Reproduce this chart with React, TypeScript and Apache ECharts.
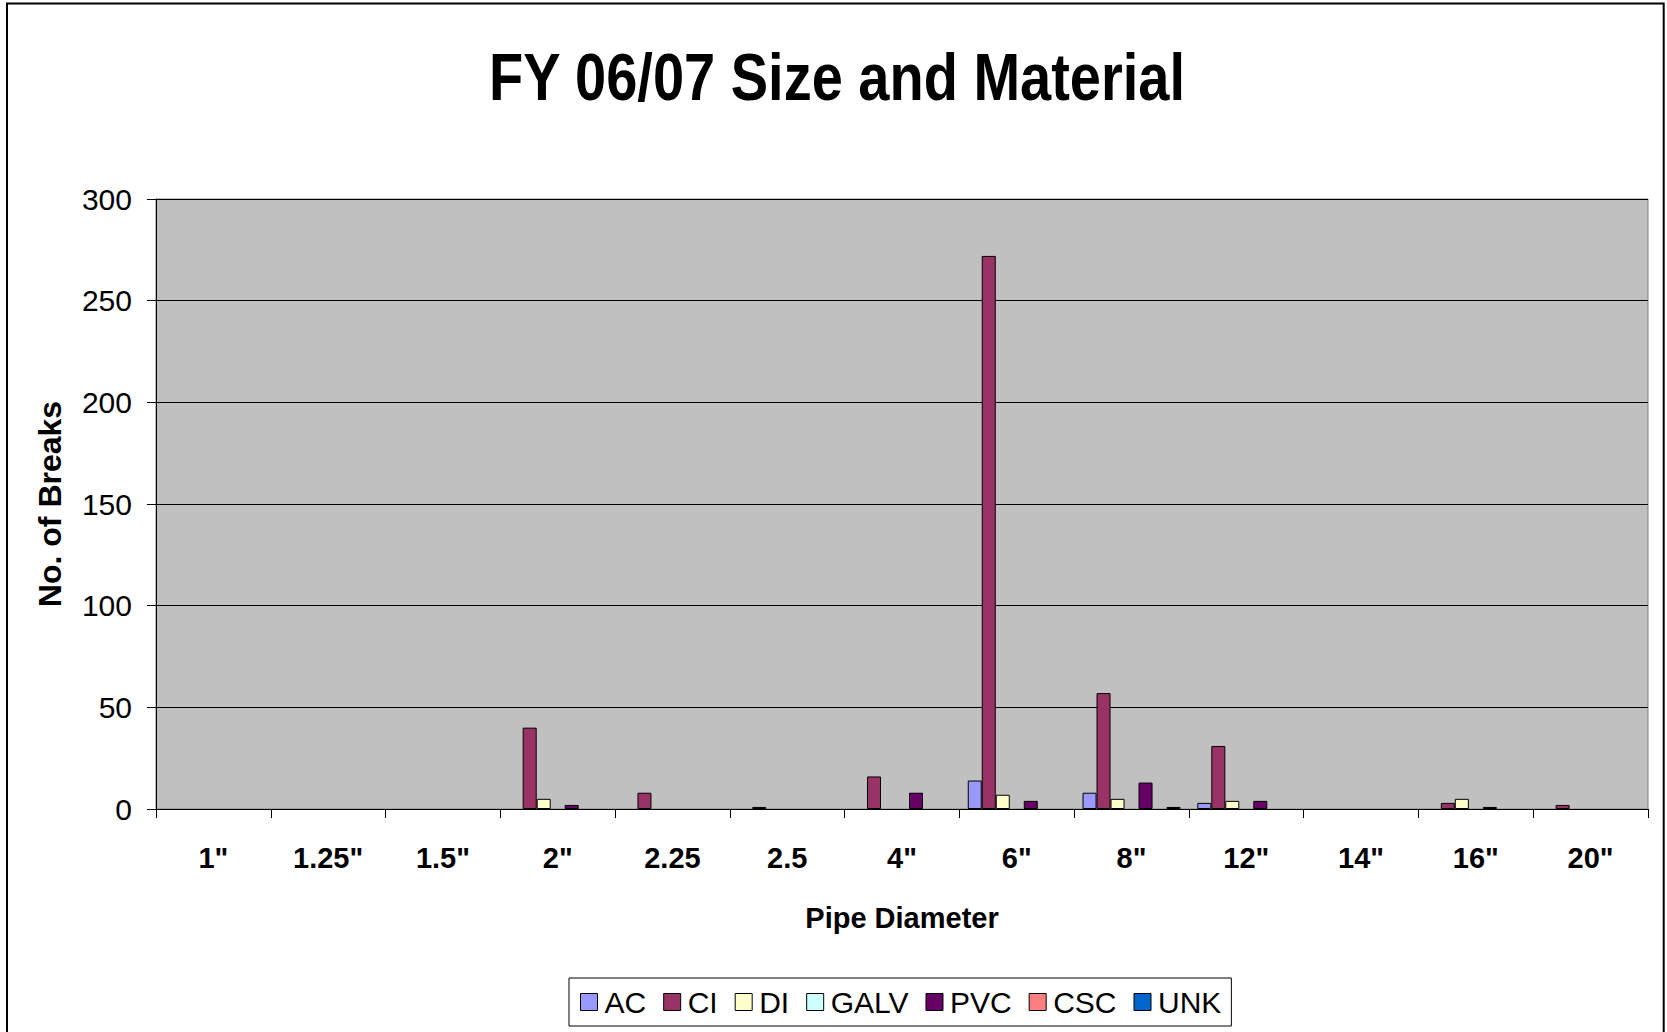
import React, { useEffect, useRef } from "react";
import * as echarts from "echarts";

const categories = ['1"', '1.25"', '1.5"', '2"', '2.25', '2.5', '4"', '6"', '8"', '12"', '14"', '16"', '20"'];
const seriesNames = ["AC", "CI", "DI", "GALV", "PVC", "CSC", "UNK"];
const seriesColors = ["#9999FF", "#993366", "#FFFFCC", "#CCFFFF", "#660066", "#FF8080", "#0066CC"];
const acValues = [0, 0, 0, 0, 0, 0, 0, 14, 8, 3, 0, 0, 0];
const ciValues = [0, 0, 0, 40, 8, 1, 16, 272, 57, 31, 0, 3, 2];
const diValues = [0, 0, 0, 5, 0, 0, 0, 7, 5, 4, 0, 5, 0];
const galvValues = [0, 0, 0, 0, 0, 0, 0, 0, 0, 0, 0, 0, 0];
const pvcValues = [0, 0, 0, 2, 0, 0, 8, 4, 13, 4, 0, 1, 0];
const cscValues = [0, 0, 0, 0, 0, 0, 0, 0, 0, 0, 0, 0, 0];
const unkValues = [0, 0, 0, 0, 0, 0, 0, 0, 1, 0, 0, 0, 0];
const yTicks = { min: 0, max: 300, interval: 50 };
const titleText = "FY 06/07 Size and Material";
const xAxisTitle = "Pipe Diameter";
const yAxisTitle = "No. of Breaks";

const FONT = '"Liberation Sans", Arial, sans-serif';

export default function App() {
  const ref = useRef<HTMLDivElement>(null);
  useEffect(() => {
    if (!ref.current) return;
    const chart = echarts.init(ref.current, null, { renderer: "svg" });
    const allValues = [acValues, ciValues, diValues, galvValues, pvcValues, cscValues, unkValues];
    const series = seriesNames.map((name, i) => ({
      name,
      type: "bar",
      data: allValues[i].map((v) => (v === 0 ? { value: 0, itemStyle: { borderWidth: 0 } } : v)),
      barGap: "0%",
      barCategoryGap: "14.6%",
      itemStyle: { color: seriesColors[i], borderColor: "#000", borderWidth: 1 },
    }));
    chart.setOption({
      animation: false,
      backgroundColor: "#fff",
      textStyle: { fontFamily: FONT },
      graphic: [
        {
          type: "rect",
          shape: { x: 7, y: 3.5, width: 1656.7, height: 1060 },
          style: { fill: "none", stroke: "#000", lineWidth: 2 },
          silent: true,
        },
        {
          type: "text",
          x: 837,
          y: 77,
          scaleY: 1.2,
          style: {
            text: titleText,
            fontSize: 56,
            fontWeight: "bold",
            fontFamily: FONT,
            fill: "#000",
            align: "center",
            verticalAlign: "middle",
            textAlign: "center",
            textVerticalAlign: "middle",
          },
        },
      ],
      legend: {
        data: seriesNames,
        left: 569,
        top: 978,
        orient: "horizontal",
        padding: [9, 10, 9, 11],
        itemGap: 17,
        itemWidth: 17,
        itemHeight: 17,
        icon: "rect",
        borderColor: "#000",
        borderWidth: 1,
        itemStyle: { borderColor: "#000", borderWidth: 1 },
        textStyle: { fontSize: 30, color: "#000", fontFamily: FONT, padding: [0, 0, 0, 2] },
      },
      grid: {
        left: 156,
        right: 19,
        top: 199,
        bottom: 223,
        show: true,
        backgroundColor: "#C0C0C0",
        borderColor: "#808080",
        borderWidth: 1,
      },
      xAxis: {
        type: "category",
        data: categories,
        name: xAxisTitle,
        nameLocation: "middle",
        nameGap: 94,
        nameTextStyle: { fontSize: 29, fontWeight: "bold", color: "#000", fontFamily: FONT },
        axisLine: { show: true, lineStyle: { color: "#000", width: 1 } },
        axisTick: { show: true, length: 9, interval: 0, lineStyle: { color: "#000" } },
        axisLabel: { interval: 0, fontSize: 29, fontWeight: "bold", color: "#000", margin: 34, fontFamily: FONT },
      },
      yAxis: {
        type: "value",
        min: yTicks.min,
        max: yTicks.max,
        interval: yTicks.interval,
        name: yAxisTitle,
        nameLocation: "middle",
        nameGap: 90,
        nameTextStyle: { fontSize: 32, fontWeight: "bold", color: "#000", fontFamily: FONT },
        axisLine: { show: true, lineStyle: { color: "#000", width: 1 } },
        axisTick: { show: true, length: 9, lineStyle: { color: "#000" } },
        axisLabel: { fontSize: 30, color: "#000", margin: 24, fontFamily: FONT },
        splitLine: { show: true, lineStyle: { color: "#000", width: 1 } },
      },
      series,
    });
    return () => chart.dispose();
  }, []);
  return (
    <div
      ref={ref}
      style={{ position: "fixed", left: 0, top: 0, width: 1667, height: 1032, background: "#fff" }}
    />
  );
}
